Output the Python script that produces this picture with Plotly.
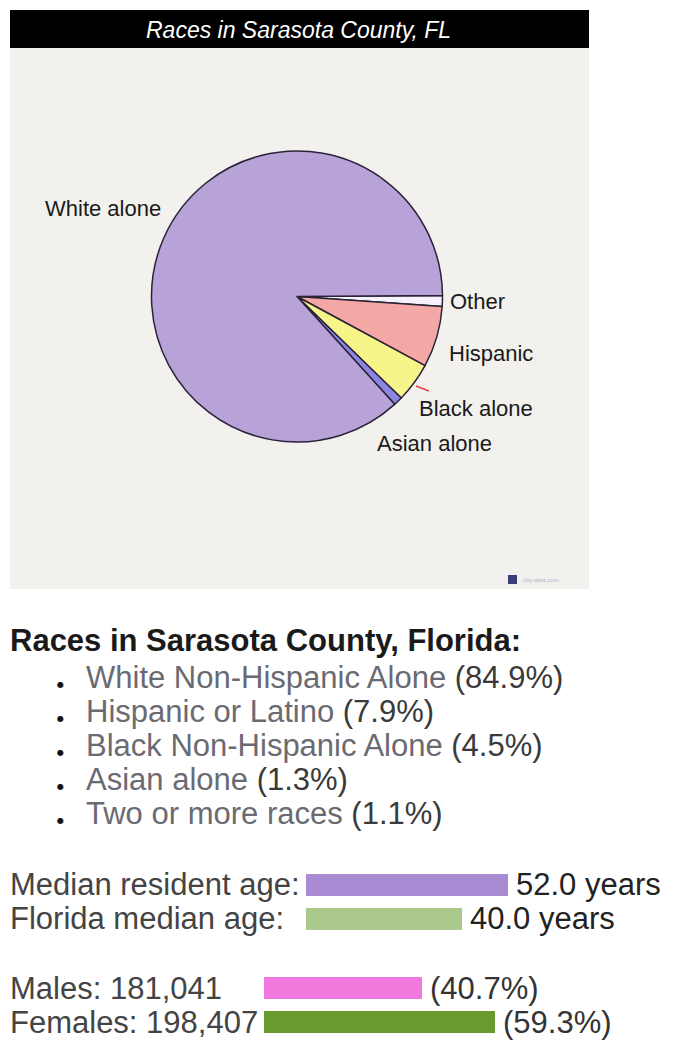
import plotly.graph_objects as go

W, H = 693, 1051

# ---------------- data ----------------
pie_labels = ["Other", "Hispanic", "Black alone", "Asian alone", "White alone"]
pie_values = [1.2, 6.8, 4.4, 1.0, 86.6]
pie_colors = ["#f6f2fb", "#f3a8a6", "#f7f489", "#8c86e3", "#b8a3d8"]

race_names = ["White Non-Hispanic Alone", "Hispanic or Latino",
              "Black Non-Hispanic Alone", "Asian alone", "Two or more races"]
race_pcts = [84.9, 7.9, 4.5, 1.3, 1.1]

age_labels = ["Median resident age:", "Florida median age:"]
age_values = [52.0, 40.0]
age_colors = ["#a98bd3", "#abc98c"]

sex_labels = ["Males: 181,041", "Females: 198,407"]
sex_values = [40.7, 59.3]
sex_colors = ["#f27ade", "#689a2e"]

title_text = "Races in Sarasota County, FL"
heading_text = "Races in Sarasota County, Florida:"

# ---------------- helpers ----------------
def px(x):
    return x / W

def py(y):
    return 1 - y / H

FONT = "Liberation Sans, Arial, sans-serif"
TS = 31  # body text size

fig = go.Figure()

# pie
cx, cy, r = 297, 296.5, 145.5
fig.add_trace(go.Pie(
    labels=pie_labels, values=pie_values, sort=False, direction="clockwise",
    rotation=89.6,
    marker=dict(colors=pie_colors, line=dict(color="#2a2238", width=1.5)),
    textinfo="none", showlegend=False, hoverinfo="label+percent",
    domain=dict(x=[px(cx - r), px(cx + r)], y=[py(cy + r), py(cy - r)]),
))

# bars
scale = 3.89  # px per unit
fig.add_trace(go.Bar(
    x=age_values, y=[0, 1], orientation="h", width=0.65,
    marker=dict(color=age_colors, line=dict(width=0)),
    xaxis="x2", yaxis="y2", showlegend=False, hoverinfo="x",
))
fig.add_trace(go.Bar(
    x=sex_values, y=[0, 1], orientation="h", width=0.65,
    marker=dict(color=sex_colors, line=dict(width=0)),
    xaxis="x3", yaxis="y3", showlegend=False, hoverinfo="x",
))

ann = []
# title
ann.append(dict(x=px(298), y=py(29.5), xref="paper", yref="paper",
                text="<i>" + title_text + "</i>", showarrow=False,
                font=dict(family=FONT, size=23, color="#ffffff"),
                xanchor="center", yanchor="middle"))

# pie labels
pie_label_pos = {"White alone": (43, 208), "Other": (448, 301),
                 "Hispanic": (447, 353), "Black alone": (417, 408),
                 "Asian alone": (375, 444)}
for lab in pie_labels:
    lx, ly = pie_label_pos[lab]
    ann.append(dict(x=px(lx), y=py(ly), xref="paper", yref="paper", text=lab,
                    showarrow=False, xanchor="left", yanchor="middle",
                    font=dict(family=FONT, size=22, color="#1a1a1a")))

# watermark
ann.append(dict(x=px(521), y=py(580), xref="paper", yref="paper",
                text="city-data.com", showarrow=False, xanchor="left",
                yanchor="middle", font=dict(family=FONT, size=6, color="#b0b4c4")))

# heading
ann.append(dict(x=px(8), y=py(640), xref="paper", yref="paper",
                text="<b>" + heading_text + "</b>", showarrow=False,
                xanchor="left", yanchor="middle",
                font=dict(family=FONT, size=TS, color="#1a1a1a")))

# list
y0, dy = 677.5, 34
for i, (nm, pc) in enumerate(zip(race_names, race_pcts)):
    yy = y0 + i * dy
    ann.append(dict(x=px(60), y=py(yy + 7), xref="paper", yref="paper",
                    text="\u25cf", showarrow=False, xanchor="center",
                    yanchor="middle", font=dict(family="DejaVu Sans", size=8, color="#111111")))
    ann.append(dict(x=px(84), y=py(yy), xref="paper", yref="paper",
                    text="<span style='color:#6a6a72'>" + nm + "</span> (" + f"{pc:.1f}" + "%)",
                    showarrow=False, xanchor="left", yanchor="middle",
                    font=dict(family=FONT, size=TS, color="#3a3a3a")))

# age labels
age_y = [884.5, 918.3]
for lab, yy in zip(age_labels, age_y):
    ann.append(dict(x=px(8), y=py(yy), xref="paper", yref="paper", text=lab,
                    showarrow=False, xanchor="left", yanchor="middle",
                    font=dict(family=FONT, size=TS, color="#444444")))
for i, v in enumerate(age_values):
    ann.append(dict(x=v, y=i, xref="x2", yref="y2", text=f"{v:.1f} years",
                    showarrow=False, xanchor="left", yanchor="middle", xshift=6,
                    font=dict(family=FONT, size=TS, color="#222222")))

# sex labels
sex_y = [988.3, 1022]
for lab, yy in zip(sex_labels, sex_y):
    ann.append(dict(x=px(8), y=py(yy), xref="paper", yref="paper", text=lab,
                    showarrow=False, xanchor="left", yanchor="middle",
                    font=dict(family=FONT, size=TS, color="#444444")))
for i, v in enumerate(sex_values):
    ann.append(dict(x=v, y=i, xref="x3", yref="y3", text=f"({v:.1f}%)",
                    showarrow=False, xanchor="left", yanchor="middle", xshift=6,
                    font=dict(family=FONT, size=TS, color="#333333")))

shapes = [
    dict(type="rect", xref="paper", yref="paper", x0=px(10), x1=px(589),
         y0=py(589), y1=py(48), fillcolor="#f3f1ee", line=dict(width=0), layer="below"),
    dict(type="rect", xref="paper", yref="paper", x0=px(10), x1=px(589),
         y0=py(48), y1=py(10), fillcolor="#000000", line=dict(width=0), layer="below"),
    dict(type="line", xref="paper", yref="paper", x0=px(416), x1=px(429),
         y0=py(386), y1=py(391), line=dict(color="#e0404a", width=1.5)),
    dict(type="rect", xref="paper", yref="paper", x0=px(508), x1=px(517),
         y0=py(584), y1=py(575), fillcolor="#3a3f7a", line=dict(width=0)),
]

fig.update_layout(
    width=W, height=H, margin=dict(l=0, r=0, t=0, b=0),
    paper_bgcolor="#ffffff", plot_bgcolor="rgba(0,0,0,0)",
    annotations=ann, shapes=shapes, showlegend=False,
    xaxis=dict(visible=False), yaxis=dict(visible=False),
    xaxis2=dict(domain=[px(306), 1], range=[0, (W - 306) / scale], visible=False,
                anchor="y2", fixedrange=True),
    yaxis2=dict(domain=[py(935.2), py(867.6)], range=[1.5, -0.5], visible=False,
                anchor="x2", fixedrange=True),
    xaxis3=dict(domain=[px(264), 1], range=[0, (W - 264) / scale], visible=False,
                anchor="y3", fixedrange=True),
    yaxis3=dict(domain=[py(1038.9), py(971.4)], range=[1.5, -0.5], visible=False,
                anchor="x3", fixedrange=True),
    bargap=0,
)

fig.write_html("out.html")
